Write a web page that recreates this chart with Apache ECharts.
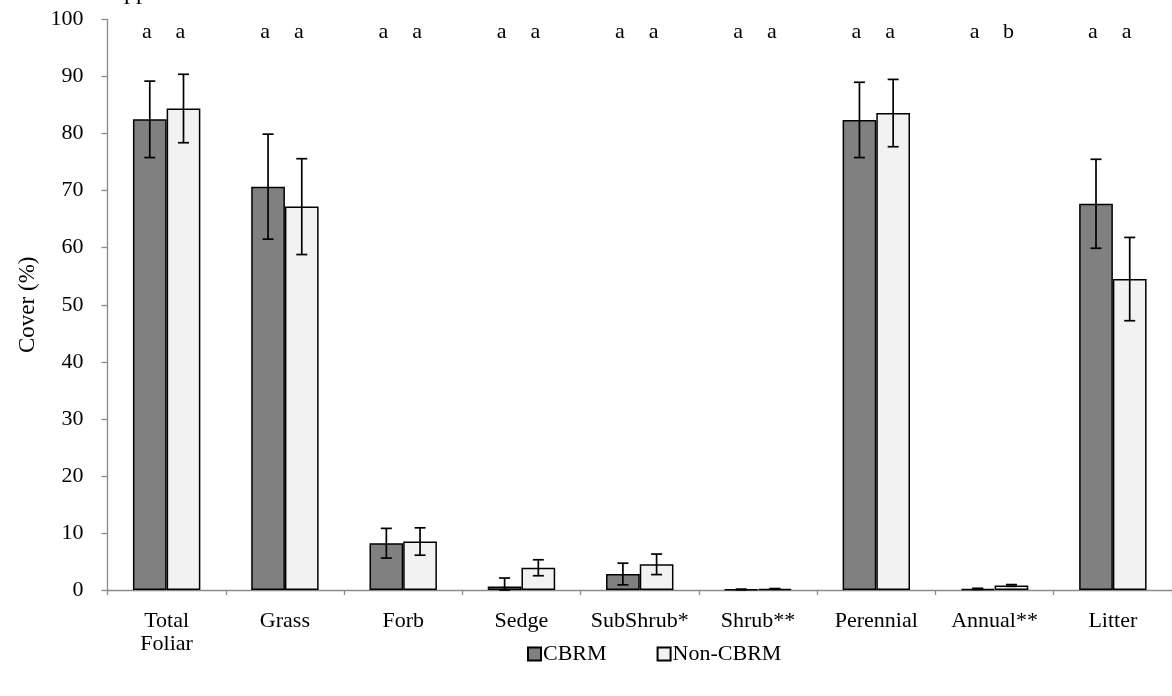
<!DOCTYPE html>
<html>
<head>
<meta charset="utf-8">
<script src="https://cdn.jsdelivr.net/npm/echarts@6/dist/echarts.min.js"></script>
<style>
  html, body { margin: 0; padding: 0; background: #ffffff; }
  #chart { width: 1172px; height: 696px; }
</style>
</head>
<body>
<div id="chart"></div>
<script>
// Plant cover by functional group, CBRM vs Non-CBRM (mean ± SE)
const categories = ['Total\nFoliar', 'Grass', 'Forb', 'Sedge', 'SubShrub*', 'Shrub**', 'Perennial', 'Annual**', 'Litter'];
const cbrmMean = [82.5, 70.7, 8.2, 0.6, 2.8, 0.1, 82.4, 0.2, 67.7];
const cbrmErr  = [6.7, 9.2, 2.6, 1.5, 1.9, 0.05, 6.6, 0.1, 7.8];
const nonMean  = [84.4, 67.2, 8.5, 3.9, 4.5, 0.2, 83.6, 0.8, 54.5];
const nonErr   = [6.0, 8.4, 2.4, 1.4, 1.8, 0.05, 5.9, 0.15, 7.3];
const cbrmLetters = ['a', 'a', 'a', 'a', 'a', 'a', 'a', 'a', 'a'];
const nonLetters  = ['a', 'a', 'a', 'a', 'a', 'a', 'a', 'b', 'a'];
const letterLevel = 97.8;
const yTicks = { min: 0, max: 100, interval: 10 };

const FONT = '"Liberation Serif", "Times New Roman", serif';
const CAT_GAP = 0.43;   // fraction of each category left empty around the bar pair
const AXIS_GREY = '#8a8a8a';

// pixel offset of a series' bar centre from the category centre
function barOffset(api, side) {
  const band = api.size([1, 0])[0];
  const barW = band * (1 - CAT_GAP) / 2;
  return side * barW / 2;
}

function errorSeries(name, means, errs, side) {
  return {
    type: 'custom',
    name: name + ' SE',
    silent: true,
    z: 5,
    data: means.map((m, i) => [i, m, errs[i]]),
    encode: { x: 0, y: 1 },
    renderItem: function (params, api) {
      const i = api.value(0), m = api.value(1), e = api.value(2);
      const dx = barOffset(api, side);
      const top = api.coord([i, m + e]);
      const bot = api.coord([i, Math.max(0, m - e)]);
      const x = top[0] + dx;
      const cap = 5.5;
      const st = { stroke: '#000', lineWidth: 1.7, fill: null };
      return {
        type: 'group',
        children: [
          { type: 'line', shape: { x1: x, y1: top[1], x2: x, y2: bot[1] }, style: st },
          { type: 'line', shape: { x1: x - cap, y1: top[1], x2: x + cap, y2: top[1] }, style: st },
          { type: 'line', shape: { x1: x - cap, y1: bot[1], x2: x + cap, y2: bot[1] }, style: st }
        ]
      };
    }
  };
}

function letterSeries(name, letters, side) {
  return {
    type: 'custom',
    name: name + ' letters',
    silent: true,
    z: 6,
    data: letters.map((l, i) => [i, letterLevel]),
    encode: { x: 0, y: 1 },
    renderItem: function (params, api) {
      const p = api.coord([api.value(0), api.value(1)]);
      return {
        type: 'text',
        x: p[0] + barOffset(api, side) - 3,
        y: p[1],
        style: {
          text: letters[params.dataIndex],
          font: '22px ' + FONT,
          fill: '#000',
          align: 'center',
          verticalAlign: 'middle'
        }
      };
    }
  };
}

const chart = echarts.init(document.getElementById('chart'), null, { renderer: 'canvas' });

chart.setOption({
  animation: false,
  backgroundColor: '#ffffff',
  textStyle: { fontFamily: FONT, color: '#000' },
  graphic: [{
    type: 'text',
    left: 124,
    top: -19,
    style: { text: 'pp', font: '24px ' + FONT, fill: '#000' }
  }],
  grid: { left: 107.5, right: -3, top: 19.5, bottom: 106, containLabel: false },
  legend: {
    data: ['CBRM', 'Non-CBRM'],
    top: 638,
    left: 522,
    itemWidth: 13,
    itemHeight: 13,
    itemGap: 50,
    icon: 'rect',
    textStyle: { fontFamily: FONT, fontSize: 22, color: '#000', padding: [0, 0, 0, -3] }
  },
  xAxis: {
    type: 'category',
    data: categories,
    axisLine: { lineStyle: { color: AXIS_GREY, width: 1.3 } },
    axisTick: { show: true, length: 5, lineStyle: { color: AXIS_GREY, width: 1.3 } },
    axisLabel: { fontFamily: FONT, fontSize: 22, color: '#000', lineHeight: 23, margin: 20, interval: 0 },
    splitLine: { show: false }
  },
  yAxis: {
    type: 'value',
    min: yTicks.min,
    max: yTicks.max,
    interval: yTicks.interval,
    name: 'Cover (%)',
    nameLocation: 'middle',
    nameGap: 66,
    nameTextStyle: { fontFamily: FONT, fontSize: 23, color: '#000' },
    axisLine: { show: true, lineStyle: { color: AXIS_GREY, width: 1.3 } },
    axisTick: { show: true, length: 6, lineStyle: { color: AXIS_GREY, width: 1.3 } },
    axisLabel: { fontFamily: FONT, fontSize: 22, color: '#000', margin: 24 },
    splitLine: { show: false }
  },
  series: [
    {
      name: 'CBRM',
      type: 'bar',
      data: cbrmMean,
      barGap: '0%',
      barCategoryGap: (CAT_GAP * 100) + '%',
      itemStyle: { color: '#808080', borderColor: '#000', borderWidth: 1.5 }
    },
    {
      name: 'Non-CBRM',
      type: 'bar',
      data: nonMean,
      barGap: '0%',
      barCategoryGap: (CAT_GAP * 100) + '%',
      itemStyle: { color: '#f2f2f2', borderColor: '#000', borderWidth: 1.5 }
    },
    errorSeries('CBRM', cbrmMean, cbrmErr, -1),
    errorSeries('Non-CBRM', nonMean, nonErr, 1),
    letterSeries('CBRM', cbrmLetters, -1),
    letterSeries('Non-CBRM', nonLetters, 1)
  ]
});
</script>
</body>
</html>
